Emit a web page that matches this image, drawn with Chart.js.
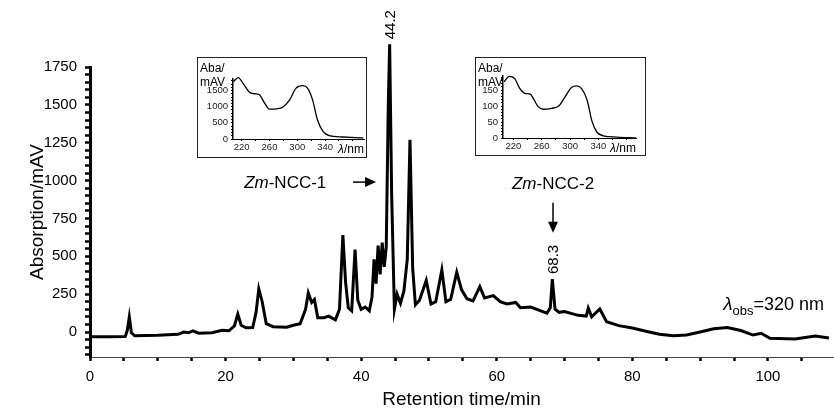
<!DOCTYPE html>
<html>
<head>
<meta charset="utf-8">
<script src="https://cdn.jsdelivr.net/npm/chart.js@4.4.1/dist/chart.umd.min.js"></script>
<style>
  body { margin: 0; background: #fff; }
  #wrap { position: relative; width: 834px; height: 412px; }
  #main { position: absolute; left: 0; top: 0; }
  .inset { position: absolute; border: 1px solid #222; background: #fff; }
  .inset canvas { display: block; }
</style>
</head>
<body>
<div id="wrap">
  <canvas id="main" width="834" height="412"></canvas>
  <div class="inset" style="left:197px;top:57px;width:168px;height:99px"><canvas id="spec1" width="168" height="99"></canvas></div>
  <div class="inset" style="left:475px;top:57px;width:169px;height:97px"><canvas id="spec2" width="169" height="97"></canvas></div>
</div>
<script>
// chromatogram (retention time in min, absorption in mAV)
var retention = [0, 3, 5.2, 5.5, 5.8, 6.1, 6.6, 10, 13, 13.8, 14.5, 15.2, 16, 18, 19.5, 20.5, 21.3, 21.8, 22.3, 23,
  24, 24.5, 24.9, 25.4, 26, 27, 29, 30, 31, 31.8, 32.2, 32.7, 33.1, 33.6, 34.5, 35.2, 36.2, 36.8, 37.3, 37.7,
  38.1, 38.6, 39.1, 39.5, 40, 40.6, 41.2, 41.6, 41.9, 42.2, 42.5, 42.8, 43.1, 43.4, 43.7, 44.0, 44.2, 44.5, 44.9, 45.3,
  45.8, 46.3, 46.8, 47.2, 47.6, 48.0, 48.6, 49.6, 50.3, 51.0, 51.9, 52.5, 53.2, 54.1, 54.8, 55.6, 56.5, 57.5, 58.2, 59.5,
  60.5, 61.5, 62.8, 63.5, 65, 66.5, 67.4, 67.9, 68.2, 68.6, 69.2, 70, 72, 73.2, 73.5, 74, 75.2, 76.2, 78, 80,
  82, 84, 86, 88, 90, 92, 94, 96, 97.8, 99, 100.3, 104, 107, 109];
var absorption = [-32, -32, -30, 10, 100, -5, -25, -22, -15, 0, -5, 8, -8, -5, 12, 8, 40, 118, 45, 28,
  30, 130, 285, 200, 55, 35, 32, 45, 55, 150, 258, 195, 215, 95, 95, 105, 80, 150, 640, 330,
  160, 140, 545, 210, 150, 165, 140, 230, 480, 320, 570, 380, 590, 430, 560, 1500, 1900, 900, 150, 250,
  190, 270, 480, 1270, 420, 180, 210, 340, 185, 200, 410, 200, 215, 395, 280, 220, 205, 300, 225, 240,
  200, 185, 195, 160, 165, 140, 125, 160, 350, 150, 130, 135, 110, 105, 158, 100, 152, 68, 42, 26,
  5, -15, -25, -20, 0, 22, 30, 10, -20, -8, -42, -46, -26, -40];

// UV/Vis spectra of the two peaks (wavelength in nm)
var wl1 = [208, 215, 222, 232, 241, 246, 253, 260, 270, 279, 289, 298, 308, 315, 322, 329, 337, 346, 365, 384, 395];
var aba1 = [1777, 1900, 1725, 1438, 1397, 1366, 1109, 924, 935, 986, 1212, 1571, 1653, 1571, 1212, 596, 236, 103, 62, 41, 31];
var wl2 = [207, 214, 222, 229, 236, 244, 248, 255, 262, 274, 284, 293, 302, 309, 316, 324, 331, 338, 347, 366, 393];
var aba2 = [176, 193, 186, 155, 140, 137, 124, 98, 90, 93, 100, 129, 158, 163, 155, 119, 52, 18, 7, 3, 0];

var xTickLabels = [0, 20, 40, 60, 80, 100];
var yTickLabels = [0, 250, 500, 750, 1000, 1250, 1500, 1750];
var peakLabels = [44.2, 68.3];

var FONT = "'Liberation Sans', Arial, Helvetica, sans-serif";

function range(a, b, step) {
  var out = [];
  for (var v = a; v <= b + 1e-9; v += step) out.push(Math.round(v * 100) / 100);
  return out;
}

function peakTop(t) {
  var best = -Infinity;
  for (var i = 0; i < retention.length; i++)
    if (Math.abs(retention[i] - t) < 0.35) best = Math.max(best, absorption[i]);
  return best;
}

function mixedText(ctx, parts, x, y, align) {
  // parts: [text, font, dy]
  var w = 0;
  parts.forEach(function (p) { ctx.font = p[1]; w += ctx.measureText(p[0]).width; });
  var cx = align === 'center' ? x - w / 2 : x;
  parts.forEach(function (p) {
    ctx.font = p[1];
    ctx.fillText(p[0], cx, y + (p[2] || 0));
    cx += ctx.measureText(p[0]).width;
  });
}

function arrowHead(ctx, x, y, dir) {
  ctx.beginPath();
  if (dir === 'down') { ctx.moveTo(x, y); ctx.lineTo(x - 5, y - 11); ctx.lineTo(x + 5, y - 11); }
  else { ctx.moveTo(x, y); ctx.lineTo(x - 11, y - 5); ctx.lineTo(x - 11, y + 5); }
  ctx.closePath();
  ctx.fill();
}

var notes = {
  id: 'notes',
  afterDatasetsDraw: function (chart) {
    var ctx = chart.ctx, xs = chart.scales.x, ys = chart.scales.y;
    ctx.save();
    ctx.fillStyle = '#000';
    ctx.strokeStyle = '#000';
    ctx.textBaseline = 'middle';

    // rotated retention time labels above the peaks
    var tips = [];
    peakLabels.forEach(function (t) {
      var px = xs.getPixelForValue(t), py = ys.getPixelForValue(peakTop(t));
      ctx.save();
      ctx.translate(px + 1, py - 5);
      ctx.rotate(-Math.PI / 2);
      ctx.font = '15px ' + FONT;
      ctx.textAlign = 'left';
      ctx.fillText(t.toFixed(1), 0, 0);
      var w = ctx.measureText(t.toFixed(1)).width;
      ctx.restore();
      tips.push({ x: px, y: py - 5 - w });
    });

    ctx.textBaseline = 'alphabetic';
    ctx.textAlign = 'left';
    // Zm-NCC-1 with arrow to the right
    var y1 = ys.getPixelForValue(990);
    mixedText(ctx, [['Zm', 'italic 17px ' + FONT], ['-NCC-1', '17px ' + FONT]], xs.getPixelForValue(28.8), y1 + 6, 'center');
    ctx.lineWidth = 1.5;
    ctx.beginPath();
    ctx.moveTo(xs.getPixelForValue(38.8), y1);
    ctx.lineTo(xs.getPixelForValue(41.5), y1);
    ctx.stroke();
    arrowHead(ctx, xs.getPixelForValue(42.2), y1, 'right');

    // Zm-NCC-2 with arrow down to 68.3
    var t2 = tips[1];
    mixedText(ctx, [['Zm', 'italic 17px ' + FONT], ['-NCC-2', '17px ' + FONT]], t2.x, ys.getPixelForValue(985) + 6, 'center');
    var tipY = t2.y - 12;
    ctx.beginPath();
    ctx.moveTo(t2.x, tipY - 30);
    ctx.lineTo(t2.x, tipY - 8);
    ctx.stroke();
    arrowHead(ctx, t2.x, tipY, 'down');

    // observation wavelength
    mixedText(ctx, [
      ['\u03bb', 'italic 19px ' + FONT, 0],
      ['obs', '13px ' + FONT, 5],
      ['=320 nm', '18px ' + FONT, 0]
    ], xs.getPixelForValue(93.4), ys.getPixelForValue(145), 'left');
    ctx.restore();
  }
};

new Chart(document.getElementById('main'), {
  type: 'line',
  data: {
    datasets: [{
      data: retention.map(function (t, i) { return { x: t, y: absorption[i] }; }),
      borderColor: '#000',
      borderWidth: 3,
      pointRadius: 0,
      tension: 0,
      clip: false
    }]
  },
  options: {
    responsive: false,
    animation: false,
    events: [],
    layout: { padding: { top: 67, right: 1, left: 0, bottom: 0 } },
    plugins: { legend: { display: false }, tooltip: { enabled: false } },
    scales: {
      x: {
        type: 'linear', min: 0, max: 109.6,
        afterBuildTicks: function (s) { s.ticks = range(0, 105, 5).map(function (v) { return { value: v }; }); },
        afterFit: function (s) { s.height = 55; },
        ticks: {
          autoSkip: false, maxRotation: 0, padding: 7, color: '#000',
          font: { family: FONT, size: 15 },
          callback: function (v) { return xTickLabels.indexOf(v) >= 0 ? String(v) : ''; }
        },
        grid: { drawOnChartArea: false, tickLength: 4, tickWidth: 2.5, tickColor: '#000' },
        border: { color: '#444', width: 1 },
        title: { display: true, text: 'Retention time/min', color: '#000', font: { family: FONT, size: 19 }, padding: { top: 0, bottom: 1 } }
      },
      y: {
        min: -165, max: 1750,
        afterBuildTicks: function (s) { s.ticks = range(-150, 1750, 50).map(function (v) { return { value: v }; }); },
        afterFit: function (s) { s.width = 90; },
        ticks: {
          autoSkip: false, padding: 8, color: '#000',
          font: { family: FONT, size: 15 },
          callback: function (v) { return yTickLabels.indexOf(v) >= 0 ? String(v) : ''; }
        },
        grid: { drawOnChartArea: false, tickLength: 5, tickWidth: 2.5, tickColor: '#000' },
        border: { color: '#000', width: 3 },
        title: { display: true, text: 'Absorption/mAV', color: '#000', font: { family: FONT, size: 19 }, padding: { top: 26, bottom: 0 } }
      }
    }
  },
  plugins: [notes]
});

function spectrum(id, wl, aba, opt) {
  var unitLabels = {
    id: 'unitLabels',
    afterDraw: function (chart) {
      var ctx = chart.ctx, area = chart.chartArea;
      ctx.save();
      ctx.fillStyle = '#000';
      ctx.font = '12px ' + FONT;
      ctx.textBaseline = 'alphabetic';
      ctx.fillText('Aba/', 2, 14);
      ctx.fillText('mAV', 2, 28);
      mixedText(ctx, [['\u03bb', 'italic 12px ' + FONT], ['/nm', '12px ' + FONT]], area.right - 26, area.bottom + 14, 'left');
      ctx.restore();
    }
  };
  new Chart(document.getElementById(id), {
    type: 'line',
    data: {
      datasets: [{
        data: wl.map(function (w, i) { return { x: w, y: aba[i] }; }),
        borderColor: '#000', borderWidth: 1.3, pointRadius: 0, tension: 0.4, cubicInterpolationMode: 'monotone', clip: false
      }]
    },
    options: {
      responsive: false, animation: false, events: [],
      layout: { padding: { top: opt.top, right: opt.right, left: 0, bottom: 0 } },
      plugins: { legend: { display: false }, tooltip: { enabled: false } },
      scales: {
        x: {
          type: 'linear', min: opt.xmin, max: opt.xmax,
          afterBuildTicks: function (s) { s.ticks = range(220, 380, 20).map(function (v) { return { value: v }; }); },
          afterFit: function (s) { s.height = opt.xh; },
          ticks: {
            autoSkip: false, maxRotation: 0, padding: 1, color: '#222', font: { family: FONT, size: 9.5 },
            callback: function (v) { return [220, 260, 300, 340].indexOf(v) >= 0 ? String(v) : ''; }
          },
          grid: { drawOnChartArea: false, tickLength: 2, tickColor: '#000' },
          border: { color: '#000', width: 1 }
        },
        y: {
          min: 0, max: opt.ymax,
          afterBuildTicks: function (s) { s.ticks = range(0, opt.ymax, opt.minor).map(function (v) { return { value: v }; }); },
          afterFit: function (s) { s.width = opt.yw; },
          ticks: {
            autoSkip: false, padding: 3, color: '#222', font: { family: FONT, size: 9.5 },
            callback: function (v) { return v % opt.major === 0 && v <= opt.lastLabel ? String(v) : ''; }
          },
          grid: { drawOnChartArea: false, tickLength: 2, tickColor: '#000' },
          border: { color: '#000', width: 1.5 }
        }
      }
    },
    plugins: [unitLabels]
  });
}

spectrum('spec1', wl1, aba1, { top: 21, right: 2, xh: 18, yw: 35, xmin: 207.5, xmax: 396, ymax: 1860, minor: 100, major: 500, lastLabel: 1500 });
spectrum('spec2', wl2, aba2, { top: 18, right: 9, xh: 17, yw: 27, xmin: 205.4, xmax: 393, ymax: 194, minor: 10, major: 50, lastLabel: 150 });
</script>
</body>
</html>
